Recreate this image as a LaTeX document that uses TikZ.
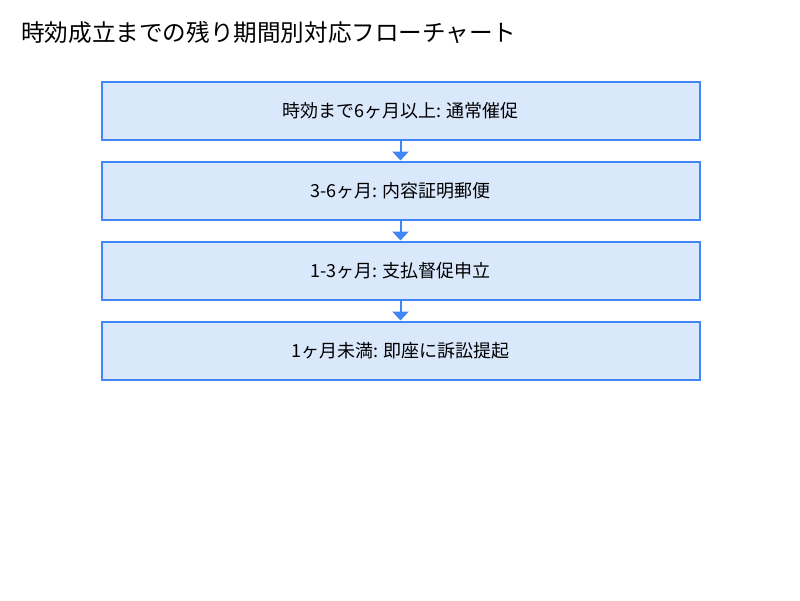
\documentclass[tikz,border=0pt]{standalone}
\usepackage{fontspec}
\setmainfont{Noto Sans CJK JP}
\usetikzlibrary{arrows.meta}
\definecolor{boxfill}{HTML}{DAE8FC}
\definecolor{boxline}{HTML}{4285F4}

\begin{document}
\begin{tikzpicture}[x=1pt,y=-1pt,
    stepbox/.style={draw=boxline,fill=boxfill,line width=2pt,minimum width=598pt,minimum height=58pt,inner sep=0pt,font=\fontsize{18}{21}\selectfont},
    flow/.style={draw=boxline,line width=2pt,-{Triangle[width=16pt,length=9pt]}}]
    \useasboundingbox[fill=white] (0,0) rectangle (800,600);

    % title
    \node[anchor=west,inner sep=0pt,font=\fontsize{23.6}{27}\selectfont] (title) at (21,33) {時効成立までの残り期間別対応フローチャート};

    % steps
    \node[stepbox] (six) at (400.5,110.5) {時効まで6ヶ月以上: 通常催促};
    \node[stepbox] (three) at (400.5,190.5) {3-6ヶ月: 内容証明郵便};
    \node[stepbox] (one) at (400.5,270.5) {1-3ヶ月: 支払督促申立};
    \node[stepbox] (last) at (400.5,350.5) {1ヶ月未満: 即座に訴訟提起};

    % arrows
    \draw[flow] (six) -- (three);
    \draw[flow] (three) -- (one);
    \draw[flow] (one) -- (last);
\end{tikzpicture}
\end{document}
